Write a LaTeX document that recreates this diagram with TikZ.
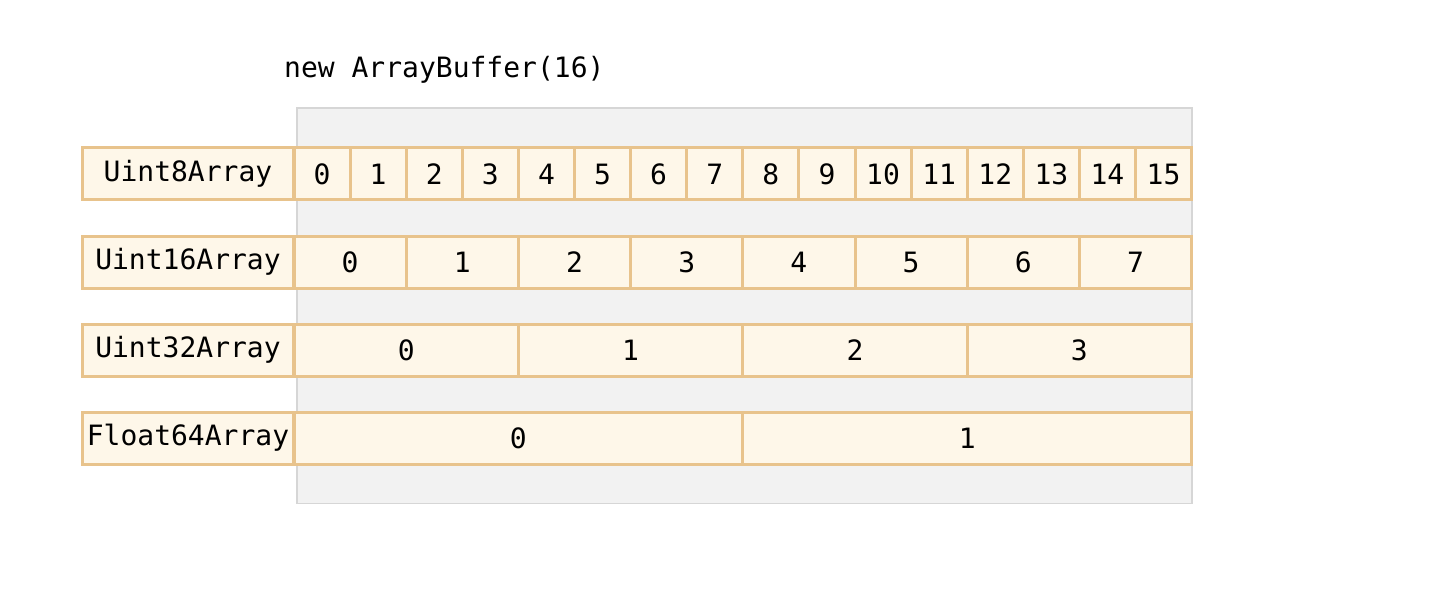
\documentclass[tikz,border=0pt]{standalone}
\usepackage{fontspec}
\setmonofont{DejaVu Sans Mono}
\definecolor{cellfill}{HTML}{FEF7E9}
\definecolor{celldraw}{HTML}{E8C38C}
\definecolor{buffill}{HTML}{F2F2F2}
\definecolor{bufdraw}{HTML}{D6D6D6}
\begin{document}
\begin{tikzpicture}[x=1pt,y=-1pt,
  bufbox/.style={draw=bufdraw, fill=buffill, line width=1.5pt},
  lbl/.style={draw=celldraw, fill=cellfill, line width=3pt, minimum width=211pt, minimum height=52pt, inner sep=0pt, font=\ttfamily\fontsize{28}{30}\selectfont},
  cell/.style={draw=celldraw, fill=cellfill, line width=3pt, minimum height=52pt, inner sep=0pt, font=\ttfamily\fontsize{28}{30}\selectfont},
  title/.style={inner sep=0pt, font=\ttfamily\fontsize{28}{30}\selectfont}]
\useasboundingbox (0,0) rectangle (1450,596);
\fill[white] (0,0) rectangle (1450,596);
\node[bufbox, minimum width=895pt, minimum height=395pt, anchor=north west] (buf) at (296,107.5) {};
\node[title, anchor=west] (ttl) at (284,70) {new ArrayBuffer(16)};
\def\bw{56.1}
% rows
\foreach \name/\y/\n/\k in {Uint8Array/174/16/1, Uint16Array/262/8/2, Uint32Array/350/4/4, Float64Array/438/2/8}{
  \node[lbl] (\name) at (188,\y) {\name};
  \pgfmathtruncatemacro{\last}{\n-1}
  \foreach \i in {0,...,\last}{
    \pgfmathsetmacro{\w}{\bw*\k}
    \pgfmathsetmacro{\cx}{294+\w*(\i+0.5)}
    \node[cell, minimum width=\w pt] (\name-\i) at (\cx,\y) {\i};
  }
}
\end{tikzpicture}
\end{document}
